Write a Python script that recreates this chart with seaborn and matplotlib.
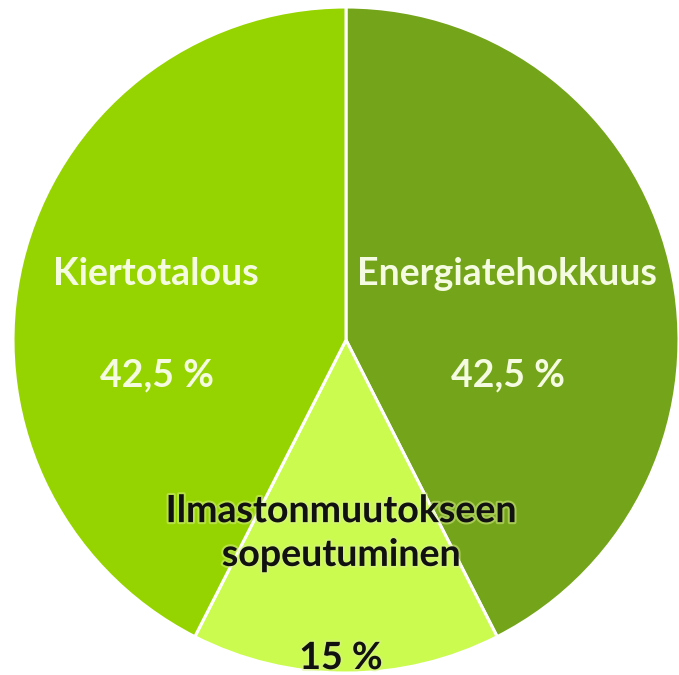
import matplotlib
matplotlib.use('Agg')
import matplotlib.pyplot as plt
import matplotlib.patheffects as pe
import seaborn as sns

sns.set_style('white')
plt.rcParams['font.family'] = ['Lato', 'DejaVu Sans']

osuudet = [42.5, 15, 42.5]
nimet = ['Energiatehokkuus', 'Ilmastonmuutokseen\nsopeutuminen', 'Kiertotalous']
prosentit = ['42,5 %', '15 %', '42,5 %']
varit = ['#74A41A', '#CBFB4E', '#96D400']

fig = plt.figure(figsize=(6.79, 6.75), dpi=100)
ax = fig.add_axes([0, 0, 1, 1])

cx, cy, r = 346, 335, 333
ax.pie(osuudet, colors=varit, startangle=90, counterclock=False,
       center=(cx, cy), radius=r,
       wedgeprops=dict(edgecolor='white', linewidth=2.2))
ax.set_xlim(0, 679)
ax.set_ylim(0, 675)
ax.set_aspect('equal')
ax.axis('off')

# tekstit
vaalea = '#F4FBE0'
fs = 27
hehku = [pe.withStroke(linewidth=3, foreground='#D8F08A', alpha=0.5)]
ax.text(cx - 190, cy + 66, nimet[2], ha='center', va='center', fontsize=fs,
        fontweight='bold', color=vaalea)
ax.text(cx - 189, cy - 35, prosentit[2], ha='center', va='center', fontsize=fs,
        fontweight='bold', color=vaalea)
ax.text(cx + 161, cy + 66, nimet[0], ha='center', va='center', fontsize=fs,
        fontweight='bold', color=vaalea)
ax.text(cx + 162, cy - 35, prosentit[0], ha='center', va='center', fontsize=fs,
        fontweight='bold', color=vaalea)
ax.text(cx - 5, cy - 193, nimet[1], ha='center', va='center', fontsize=fs,
        fontweight='bold', color='#111111', linespacing=1.35,
        path_effects=hehku)
ax.text(cx - 5, cy - 318, prosentit[1], ha='center', va='center', fontsize=fs,
        fontweight='bold', color='#111111', path_effects=hehku)

fig.savefig('out.png', dpi=100)
